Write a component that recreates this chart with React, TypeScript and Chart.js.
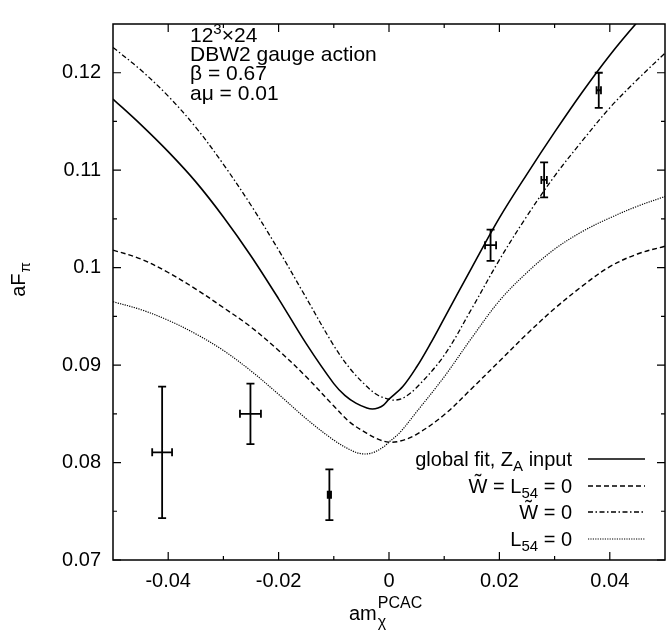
import React, { useEffect, useRef } from "react";
import { Chart, registerables } from "chart.js";

Chart.register(...registerables);

const FONT = "'Liberation Sans', Arial, Helvetica, sans-serif";

// ---- axis ticks ----
const xTickValues = [-0.04, -0.02, 0, 0.02, 0.04];
const xTickLabels = ["-0.04", "-0.02", "0", "0.02", "0.04"];
const xMinorTicks = [-0.03, -0.01, 0.01, 0.03];
const yTickValues = [0.07, 0.08, 0.09, 0.1, 0.11, 0.12];
const yTickLabels = ["0.07", "0.08", "0.09", "0.1", "0.11", "0.12"];
const yMinorTicks = [0.075, 0.085, 0.095, 0.105, 0.115];

// ---- lattice data points ----
const ptX = [-0.0411, -0.0251, -0.0108, 0.0184, 0.0281, 0.038];
const ptY = [0.08105, 0.085, 0.0767, 0.1023, 0.109, 0.1182];
const ptXErr = [0.0018, 0.0019, 0.0003, 0.001, 0.0005, 0.0004];
const ptYErr = [0.00675, 0.0031, 0.0026, 0.0016, 0.0018, 0.0018];

// ---- global fit, Z_A input (solid) ----
const fitX = [-0.05, -0.045, -0.04, -0.035, -0.03, -0.025, -0.02, -0.015, -0.01, -0.008, -0.006, -0.004, -0.003, -0.002, -0.001, 0, 0.0025, 0.005, 0.0075, 0.01, 0.015, 0.02, 0.025, 0.03, 0.035, 0.04, 0.045, 0.05];
const fitY = [0.1173, 0.1147, 0.1119, 0.1088, 0.1052, 0.1012, 0.0968, 0.0922, 0.0881, 0.0869, 0.0861, 0.0856, 0.0855, 0.0856, 0.0859, 0.0865, 0.0878, 0.0898, 0.0922, 0.0948, 0.1, 0.1051, 0.1096, 0.1139, 0.118, 0.1218, 0.1252, 0.1283];

// ---- W~ = L54 = 0 (dashed) ----
const wlX = [-0.05, -0.045, -0.04, -0.035, -0.03, -0.025, -0.02, -0.015, -0.01, -0.007, -0.004, -0.002, 0, 0.002, 0.005, 0.01, 0.015, 0.02, 0.025, 0.03, 0.035, 0.04, 0.045, 0.05];
const wlY = [0.1018, 0.1009, 0.0995, 0.0978, 0.0959, 0.0939, 0.0915, 0.0888, 0.0858, 0.0841, 0.083, 0.0824, 0.0821, 0.0822, 0.0829, 0.0849, 0.0876, 0.0904, 0.0932, 0.0958, 0.0981, 0.1001, 0.1014, 0.1022];

// ---- W~ = 0 (dash-dot) ----
const wX = [-0.05, -0.045, -0.04, -0.035, -0.03, -0.025, -0.02, -0.015, -0.01, -0.007, -0.004, -0.002, 0, 0.001, 0.0025, 0.005, 0.01, 0.015, 0.02, 0.025, 0.03, 0.035, 0.04, 0.045, 0.05];
const wY = [0.1226, 0.1203, 0.1176, 0.1144, 0.1106, 0.1064, 0.1018, 0.0969, 0.092, 0.0896, 0.0878, 0.0869, 0.0865, 0.0864, 0.0866, 0.0877, 0.091, 0.0958, 0.1008, 0.1053, 0.1094, 0.113, 0.1164, 0.1193, 0.122];

// ---- L54 = 0 (dotted) ----
const lX = [-0.05, -0.045, -0.04, -0.035, -0.03, -0.025, -0.02, -0.015, -0.01, -0.007, -0.005, -0.003, -0.001, 0, 0.002, 0.005, 0.01, 0.015, 0.02, 0.025, 0.03, 0.035, 0.04, 0.045, 0.05];
const lY = [0.0965, 0.0957, 0.0946, 0.0932, 0.0915, 0.0894, 0.087, 0.0845, 0.0823, 0.0813, 0.0809, 0.081, 0.0816, 0.0821, 0.0831, 0.0852, 0.0888, 0.0928, 0.0966, 0.0995, 0.1019, 0.1037, 0.1051, 0.1063, 0.1073];

type Piece = { t: string; k?: "sub" | "sup"; tilde?: boolean };

const legendItems: { pieces: Piece[]; dash: number[]; width: number }[] = [
  { pieces: [{ t: "global fit, Z" }, { t: "A", k: "sub" }, { t: " input" }], dash: [], width: 1.6 },
  { pieces: [{ t: "W", tilde: true }, { t: " = L" }, { t: "54", k: "sub" }, { t: " = 0" }], dash: [5, 3], width: 1.4 },
  { pieces: [{ t: "W", tilde: true }, { t: " = 0" }], dash: [5, 2.5, 1.5, 2.5], width: 1.3 },
  { pieces: [{ t: "L" }, { t: "54", k: "sub" }, { t: " = 0" }], dash: [1.2, 1.2], width: 1.2 },
];

const infoLines: Piece[][] = [
  [{ t: "12" }, { t: "3", k: "sup" }, { t: "\u00d724" }],
  [{ t: "DBW2 gauge action" }],
  [{ t: "\u03b2 = 0.67" }],
  [{ t: "a\u03bc = 0.01" }],
];

const SIZE = 20;
const SMALL = 15;

function drawRich(ctx: CanvasRenderingContext2D, pieces: Piece[], x: number, y: number, align: "left" | "right", size: number, small: number) {
  const fontOf = (p: Piece) => `${p.k ? small : size}px ${FONT}`;
  let w = 0;
  for (const p of pieces) {
    ctx.font = fontOf(p);
    w += ctx.measureText(p.t).width;
  }
  let cx = align === "left" ? x : x - w;
  ctx.textAlign = "left";
  ctx.textBaseline = "alphabetic";
  for (const p of pieces) {
    ctx.font = fontOf(p);
    const dy = p.k === "sub" ? 5 : p.k === "sup" ? -8 : 0;
    ctx.fillText(p.t, cx, y + dy);
    const pw = ctx.measureText(p.t).width;
    if (p.tilde) {
      ctx.font = `${size}px ${FONT}`;
      const tw = ctx.measureText("\u02dc").width;
      ctx.fillText("\u02dc", cx + pw / 2 - tw / 2, y - 5);
    }
    cx += pw;
  }
}

const decor = {
  id: "decor",
  afterDatasetsDraw(chart: any) {
    const { ctx, chartArea: a, scales } = chart;
    const xs = scales.x;
    const ys = scales.y;
    ctx.save();
    ctx.strokeStyle = "#000";
    ctx.fillStyle = "#000";

    // error bars
    ctx.lineWidth = 1.8;
    ctx.setLineDash([]);
    for (let i = 0; i < ptX.length; i++) {
      const cx = xs.getPixelForValue(ptX[i]);
      const cy = ys.getPixelForValue(ptY[i]);
      const x0 = xs.getPixelForValue(ptX[i] - ptXErr[i]);
      const x1 = xs.getPixelForValue(ptX[i] + ptXErr[i]);
      const y0 = ys.getPixelForValue(ptY[i] - ptYErr[i]);
      const y1 = ys.getPixelForValue(ptY[i] + ptYErr[i]);
      const c = 4;
      ctx.beginPath();
      ctx.moveTo(cx, y0); ctx.lineTo(cx, y1);
      ctx.moveTo(cx - c, y0); ctx.lineTo(cx + c, y0);
      ctx.moveTo(cx - c, y1); ctx.lineTo(cx + c, y1);
      ctx.moveTo(x0, cy); ctx.lineTo(x1, cy);
      ctx.moveTo(x0, cy - c); ctx.lineTo(x0, cy + c);
      ctx.moveTo(x1, cy - c); ctx.lineTo(x1, cy + c);
      ctx.stroke();
    }

    // frame
    ctx.lineWidth = 1.5;
    ctx.strokeRect(a.left, a.top, a.right - a.left, a.bottom - a.top);

    // ticks
    ctx.lineWidth = 1.2;
    ctx.beginPath();
    const xt = (v: number, len: number) => {
      const px = xs.getPixelForValue(v);
      ctx.moveTo(px, a.bottom); ctx.lineTo(px, a.bottom - len);
      ctx.moveTo(px, a.top); ctx.lineTo(px, a.top + len);
    };
    const yt = (v: number, len: number) => {
      const py = ys.getPixelForValue(v);
      ctx.moveTo(a.left, py); ctx.lineTo(a.left + len, py);
      ctx.moveTo(a.right, py); ctx.lineTo(a.right - len, py);
    };
    xTickValues.forEach((v) => xt(v, 8));
    xMinorTicks.forEach((v) => xt(v, 4));
    yTickValues.forEach((v) => yt(v, 8));
    yMinorTicks.forEach((v) => yt(v, 4));
    ctx.stroke();

    // legend
    const textRight = 572;
    const s0 = 588, s1 = 645;
    const rowY = [459, 486, 512, 539];
    legendItems.forEach((it, i) => {
      drawRich(ctx, it.pieces, textRight, rowY[i] + 7, "right", 20, 15);
      ctx.beginPath();
      ctx.lineWidth = it.width;
      ctx.setLineDash(it.dash);
      ctx.moveTo(s0, rowY[i]);
      ctx.lineTo(s1, rowY[i]);
      ctx.stroke();
    });
    ctx.setLineDash([]);

    // info text
    const infoY = [35, 54, 73, 93];
    infoLines.forEach((ln, i) => drawRich(ctx, ln, 190, infoY[i] + 7, "left", 21, 15));

    // x title: am_chi^PCAC
    {
      ctx.font = `${SIZE}px ${FONT}`;
      const base = 620;
      const x0 = 349;
      ctx.textAlign = "left";
      ctx.textBaseline = "alphabetic";
      ctx.fillText("am", x0, base);
      const w = ctx.measureText("am").width;
      ctx.font = `16px ${FONT}`;
      ctx.fillText("PCAC", x0 + w + 1, base - 12);
      ctx.fillText("\u03c7", x0 + w + 1, base + 7);
    }

    // y title: aF_pi (rotated)
    {
      ctx.save();
      ctx.translate(25, 280);
      ctx.rotate(-Math.PI / 2);
      ctx.font = `${SIZE}px ${FONT}`;
      ctx.textAlign = "left";
      ctx.textBaseline = "alphabetic";
      const w1 = ctx.measureText("aF").width;
      ctx.font = `${SMALL}px ${FONT}`;
      const w2 = ctx.measureText("\u03c0").width;
      const start = -(w1 + w2) / 2;
      ctx.font = `${SIZE}px ${FONT}`;
      ctx.fillText("aF", start, 0);
      ctx.font = `${SMALL}px ${FONT}`;
      ctx.fillText("\u03c0", start + w1 + 1, 5);
      ctx.restore();
    }

    ctx.restore();
  },
};

function lineDs(xs: number[], ys: number[], dash: number[], width: number) {
  return {
    data: xs.map((x, i) => ({ x, y: ys[i] })),
    showLine: true,
    borderColor: "#000",
    backgroundColor: "#000",
    borderWidth: width,
    borderDash: dash,
    pointRadius: 0,
    tension: 0.35,
    fill: false,
  };
}

export default function App() {
  const ref = useRef<HTMLCanvasElement | null>(null);
  useEffect(() => {
    document.body.style.margin = "0";
    const canvas = ref.current!;
    const chart = new Chart(canvas, {
      type: "scatter",
      data: {
        datasets: [
          lineDs(fitX, fitY, [], 1.6),
          lineDs(wlX, wlY, [5, 3], 1.4),
          lineDs(wX, wY, [5, 2.5, 1.5, 2.5], 1.3),
          lineDs(lX, lY, [1.2, 1.2], 1.2),
          {
            data: ptX.map((x, i) => ({ x, y: ptY[i] })),
            showLine: false,
            pointRadius: 0,
            borderColor: "#000",
            backgroundColor: "#000",
          },
        ] as any,
      },
      options: {
        responsive: false,
        animation: false,
        devicePixelRatio: 1,
        layout: { padding: { top: 4, right: 1, left: 0, bottom: 0 } },
        plugins: { legend: { display: false }, tooltip: { enabled: false } },
        scales: {
          x: {
            type: "linear",
            min: -0.05,
            max: 0.05,
            grid: { display: false, drawTicks: false },
            border: { display: false },
            afterBuildTicks: (s: any) => {
              s.ticks = xTickValues.map((v) => ({ value: v }));
            },
            afterFit: (s: any) => {
              s.height = 71;
            },
            ticks: {
              color: "#000",
              font: { family: FONT, size: SIZE },
              padding: 9,
              maxRotation: 0,
              autoSkip: false,
              callback: (v: any) => {
                const i = xTickValues.findIndex((t) => Math.abs(t - Number(v)) < 1e-9);
                return i >= 0 ? xTickLabels[i] : "";
              },
            },
          },
          y: {
            type: "linear",
            min: 0.07,
            max: 0.125,
            grid: { display: false, drawTicks: false },
            border: { display: false },
            afterBuildTicks: (s: any) => {
              s.ticks = yTickValues.map((v) => ({ value: v }));
            },
            afterFit: (s: any) => {
              s.width = 113;
            },
            ticks: {
              color: "#000",
              font: { family: FONT, size: SIZE },
              padding: 12,
              autoSkip: false,
              callback: (v: any) => {
                const i = yTickValues.findIndex((t) => Math.abs(t - Number(v)) < 1e-9);
                return i >= 0 ? yTickLabels[i] : "";
              },
            },
          },
        },
      },
      plugins: [decor],
    });
    return () => chart.destroy();
  }, []);
  return (
    <div style={{ width: 666, height: 631, background: "#fff" }}>
      <canvas ref={ref} width={666} height={631} style={{ display: "block" }} />
    </div>
  );
}
